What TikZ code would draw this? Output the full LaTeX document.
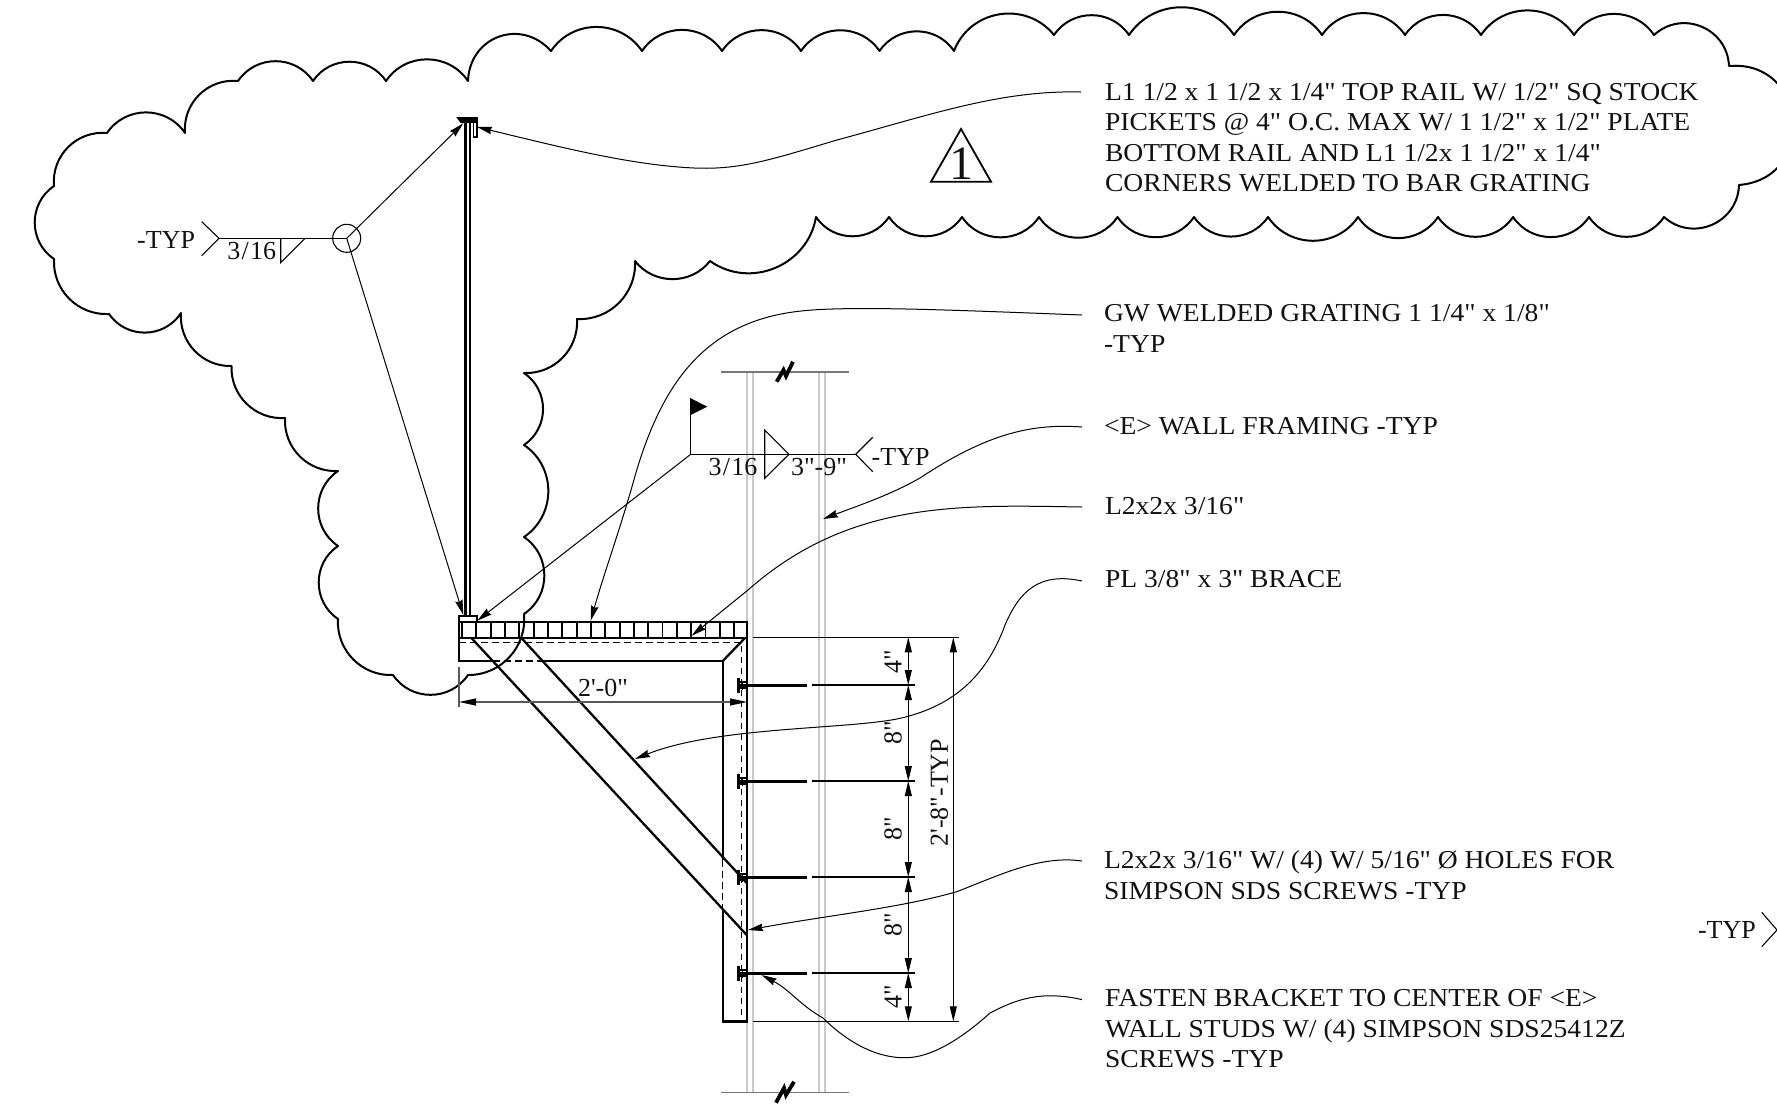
\documentclass[tikz,border=0pt]{standalone}
\usepackage{fontspec}
\usetikzlibrary{arrows.meta}
\newfontfamily\drawfont{Liberation Serif}
\newfontfamily\notefont[FakeStretch=1.07]{Liberation Serif}
\definecolor{ink}{HTML}{111111}
\definecolor{stud}{HTML}{C9C9C9}
\definecolor{breakline}{HTML}{777777}
\tikzset{
  every node/.style={inner sep=0pt,outer sep=0pt,text=ink,font=\drawfont\fontsize{26}{30.6}\selectfont},
  note/.style={anchor=west,align=left,font=\notefont\fontsize{25.8}{30.6}\selectfont},
  sc/.style={bend left=56,looseness=1.09},
  cr/.style={bend left=48,looseness=1.02},
  cloudline/.style={line width=2pt,line join=round,draw=black},
  thick part/.style={line width=2.3pt,draw=black,line cap=butt},
  thin part/.style={line width=1.8pt,draw=black},
  hidden part/.style={line width=1.3pt,draw=black,dash pattern=on 6.5pt off 4.5pt},
  leader/.style={line width=1pt,draw=black,-{Stealth[length=15pt,width=7.5pt,inset=1.5pt]}},
  thinline/.style={line width=1.1pt,draw=black},
  dimline/.style={line width=1.1pt,draw=black,{Stealth[length=15pt,width=7pt,inset=0pt]}-{Stealth[length=15pt,width=7pt,inset=0pt]}},
  dimgray/.style={line width=1.1pt,draw=black!65,{Stealth[length=17pt,width=7pt,inset=0pt,color=black]}-{Stealth[length=17pt,width=7pt,inset=0pt,color=black]}},
  studline/.style={line width=2pt,draw=stud},
  breakrule/.style={line width=1.5pt,draw=breakline},
  breakmark/.style={line width=3.8pt,draw=black,line join=miter},
}
\newcommand{\wfrac}{3\kern1.2pt/\kern1.2pt16}
\begin{document}
\begin{tikzpicture}[x=1pt,y=-1pt]
\useasboundingbox (0,0) rectangle (1777,1119);
\clip (0,0) rectangle (1777,1119);

% wall studs
\foreach \x in {746.7,752.7,819.3,825} \draw[studline] (\x,372) -- (\x,1092.7);
\draw[breakrule] (720.7,372) -- (849.3,372);
\draw[breakrule] (720.7,1092.7) -- (849.3,1092.7);
\draw[breakmark] (776.7,381.7) -- (783.5,370) -- (786,376) -- (793,361.7);
\draw[breakmark] (776,1102.7) -- (784,1088) -- (786,1095) -- (794,1081.7);

% revision cloud
\draw[cloudline] (54,186)
 to[sc,bend left=50,looseness=1.04] (107,133) to[sc] (185,133) to[sc,bend left=50,looseness=1.04] (238,81)
 to[sc] (313,81) to[sc] (386,81) to[sc] (468,81)
 to[bend left=68,looseness=1.3] (551,51)
 to[sc] (642,51) to[sc] (722,51) to[sc] (801,51) to[sc] (879.5,51) to[sc] (954,51)
 to[bend left=60,looseness=1.13] (1054,35) to[sc] (1129,35) to[sc] (1234,35) to[sc] (1322,35)
 to[sc] (1405,35) to[sc] (1481,35) to[sc] (1574,35) to[sc] (1654,35)
 to[bend left=65,looseness=1.2] (1729,66)
 to[bend left=90,looseness=1.7] (1739,185)
 to[bend left=65,looseness=1.2] (1664,217)
 to[sc] (1589,217) to[sc] (1513,217) to[sc] (1438,217) to[sc] (1358,217) to[sc] (1268,217)
 to[sc] (1194,217) to[sc] (1117.5,217) to[sc] (1039,217) to[sc] (962,217) to[sc] (889,217) to[sc] (816,217)
 to[bend left=58,looseness=1.1] (710,261) to[bend left=52,looseness=1.05] (635,261)
 to[cr] (577,319) to[cr] (524,373)
 to[sc] (524,445) to[sc] (524,537) to[sc] (524,614)
 to[cr] (468,675) to[sc] (393,675) to[cr] (338,619)
 to[sc] (338,546) to[sc] (338,471)
 to[cr] (285,418) to[cr] (231.5,366) to[cr] (181,313)
 to[sc] (109,314) to[cr] (54,259) to[sc] cycle;

% guard rail post and top angle
\draw[thick part] (465.5,122) -- (465.5,616);
\draw[thick part] (470.3,122) -- (470.3,616);
\draw[line width=1.8pt,draw=black,fill=black] (458,118) -- (477,118) -- (477,122) -- (461,122) -- cycle;
\draw[line width=1.8pt,draw=black] (477,118) -- (477,137) -- (473.5,137) -- (473.5,122);

% grating
\draw[thin part] (459,616) rectangle (477,622.3);
\draw[thick part] (459,622.3) rectangle (747,637.7);
\draw[thin part] (461.7,622.3) -- (461.7,637.7);
\foreach \k in {0,...,18} \draw[thin part] ({476.3+14.33*\k},622.3) -- ({476.3+14.33*\k},637.7);

% bracket angle
\draw[thick part,line join=miter] (459,637.7) -- (459,661) -- (493,661);
\draw[thick part,line join=miter] (543,661) -- (722.7,661) -- (722.7,860);
\draw[thick part] (722.7,910) -- (722.7,1021.5) -- (747,1021.5) -- (747,637.7);
\draw[thick part] (722.7,661) -- (745,638);
\draw[hidden part] (459,642.3) -- (741.7,642.3) -- (741.7,1021);
\draw[hidden part] (493,661) -- (543,661);
\draw[hidden part] (722.7,860) -- (722.7,910);

% brace
\draw[thick part] (471.7,638.3) -- (746.7,935);
\draw[thick part] (521.7,638.3) -- (746.7,883);

% screws and dimension ticks
\foreach \y in {685,781,877,973} {
  \draw[line width=3.2pt,draw=black] (738.3,\y-7.5) -- (738.3,\y+7.5);
  \draw[line width=1.1pt,draw=black] (742.5,\y-4.5) -- (742.5,\y+4.5);
  \draw[line width=1.1pt,draw=black] (738.3,\y-3) -- (747,\y-3);
  \draw[line width=1.1pt,draw=black] (738.3,\y+3) -- (747,\y+3);
  \draw[line width=3pt,draw=black] (738.3,\y) -- (806.7,\y);
  \draw[thinline] (812,\y) -- (915,\y);
}
\draw[thinline] (752.7,637.3) -- (959,637.3);
\draw[thinline] (752.7,1021.3) -- (959,1021.3);
\draw[dimline] (908.3,637.3) -- (908.3,685);
\draw[dimline] (908.3,685) -- (908.3,781);
\draw[dimline] (908.3,781) -- (908.3,877);
\draw[dimline] (908.3,877) -- (908.3,973);
\draw[dimline] (908.3,973) -- (908.3,1021.3);
\draw[dimline] (953.3,637.3) -- (953.3,1021.3);
\draw[line width=1.1pt,draw=black!65] (459,667) -- (459,707);
\draw[dimgray] (459,702) -- (747,702);

% rotated dimension labels
\node[rotate=90] (d1) at (893,661.7) {4"};
\node[rotate=90] (d2) at (893,733) {8"};
\node[rotate=90] (d3) at (893,829) {8"};
\node[rotate=90] (d4) at (893,925) {8"};
\node[rotate=90] (d5) at (893,996.7) {4"};
\node[rotate=90] (d6) at (939.3,792.7) {2'-8"-TYP};
\node (d7) at (603,688) {2'-0"};

% left weld symbol
\coordinate (wa) at (346.7,238.3);
\coordinate (wb) at (219,238.3);
\draw[thinline] (wb) -- (wa);
\draw[thinline] (201.7,221.7) -- (wb) -- (201.7,255.7);
\draw[thinline] (280.7,238.3) -- (280.7,262.7) -- (305,238.3);
\draw[thinline] (wa) circle (14);
\node (wt1) at (251.7,251.5) {\wfrac};
\node[anchor=east] (wt2) at (195,239.5) {-TYP};
\coordinate (tipa) at (463.3,123.3);
\coordinate (tipb) at (463.3,615);
\draw[leader] (wa) -- (tipa);
\draw[leader] (wa) -- (tipb);

% right weld symbol
\coordinate (fa) at (690.7,454.3);
\coordinate (fb) at (855.7,454.3);
\draw[thinline] (fa) -- (fb);
\draw[thinline] (fa) -- (690.7,398.3);
\fill[black] (690.7,398.3) -- (707.3,406.7) -- (690.7,415) -- cycle;
\draw[thinline] (872.7,437.3) -- (fb) -- (872.7,471.7);
\draw[thinline] (764.7,430) -- (789,454.3) -- (764.7,478.3) -- cycle;
\node (ft1) at (733,467.5) {\wfrac};
\node (ft2) at (819,466.7) {3"-9"};
\node[anchor=west] (ft3) at (871.7,456.5) {-TYP};
\coordinate (tipc) at (477.3,620.7);
\draw[leader] (fa) -- (tipc);

% revision triangle
\draw[line width=1.8pt,draw=black,line join=miter] (961,129) -- (931,181.7) -- (991,181.7) -- cycle;
\node[font=\drawfont\fontsize{48}{48}\selectfont] (rev) at (961,163.5) {1};

% notes
\node[note] (n1) at (1105,137.7) {L1 1/2 x 1 1/2 x 1/4" TOP RAIL W/ 1/2" SQ STOCK\\PICKETS @ 4" O.C. MAX W/ 1 1/2" x 1/2" PLATE\\BOTTOM RAIL AND L1 1/2x 1 1/2" x 1/4"\\CORNERS WELDED TO BAR GRATING};
\node[note] (n2) at (1104,328.5) {GW WELDED GRATING 1 1/4" x 1/8"\\-TYP};
\node[note] (n3) at (1104,426) {<E> WALL FRAMING -TYP};
\node[note] (n4) at (1105,506.5) {L2x2x 3/16"};
\node[note] (n5) at (1105,579) {PL 3/8" x 3" BRACE};
\node[note] (n6) at (1104,875) {L2x2x 3/16" W/ (4) W/ 5/16" Ø HOLES FOR\\SIMPSON SDS SCREWS -TYP};
\node[note] (n7) at (1105,1029) {FASTEN BRACKET TO CENTER OF <E>\\WALL STUDS W/ (4) SIMPSON SDS25412Z\\SCREWS -TYP};
\node[anchor=west] (n8) at (1698,930) {-TYP};
\draw[thinline] (1761.7,912.3) -- (1777,930) -- (1761.7,946.7);

% leaders
\coordinate (l1) at (1081,92);
\coordinate (t1) at (477,127);
\draw[leader] (l1) .. controls (1000,90) and (930,115) .. (837,140) .. controls (770,160) and (740,170) .. (694,168) .. controls (630,165) and (560,147) .. (t1);
\coordinate (l2) at (1082,315);
\coordinate (t2) at (590.7,620.7);
\draw[leader] (l2) .. controls (950,310) and (840,305) .. (793,312) .. controls (700,325) and (660,390) .. (635,476) .. controls (620,530) and (605,570) .. (t2);
\coordinate (l3) at (1082,427);
\coordinate (t3) at (823,519);
\draw[leader] (l3) .. controls (1030,423) and (985,435) .. (920,478) .. controls (890,495) and (860,505) .. (t3);
\coordinate (l4) at (1082,507);
\coordinate (t4) at (691.7,635.7);
\draw[leader] (l4) .. controls (960,505) and (850,500) .. (748,590) -- (t4);
\coordinate (l5) at (1082,581);
\coordinate (t5) at (635,759);
\draw[leader] (l5) .. controls (1040,572) and (1020,590) .. (1005,625) .. controls (985,680) and (950,705) .. (906.7,716.7) .. controls (860,730) and (720,725) .. (t5);
\coordinate (l6) at (1082,861);
\coordinate (t6) at (748,930);
\draw[leader] (l6) .. controls (1040,855) and (1000,875) .. (956.7,891.7) .. controls (900,908) and (830,915) .. (t6);
\coordinate (l7) at (1082,999.6);
\coordinate (t7) at (761.7,975);
\draw[leader] (l7) .. controls (1040,990) and (1015,1000) .. (990,1013) .. controls (960,1040) and (930,1058) .. (905,1057.7) .. controls (870,1058) and (840,1035) .. (823,1018) .. controls (800,1005) and (790,990) .. (t7);
\end{tikzpicture}
\end{document}
